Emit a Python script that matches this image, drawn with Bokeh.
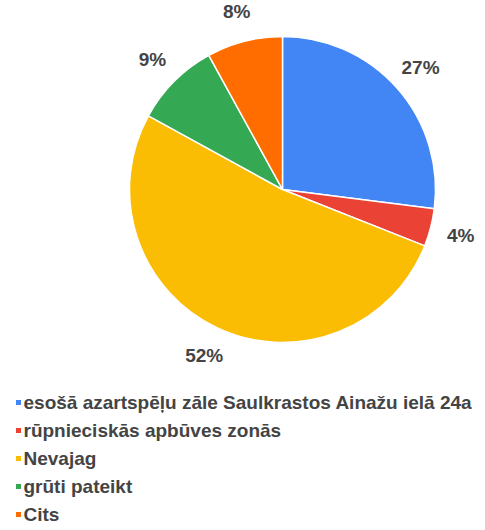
import math
from bokeh.plotting import figure
from bokeh.models import ColumnDataSource, Range1d
from bokeh.core.properties import value
from bokeh.embed import file_html
from bokeh.resources import INLINE

categories = ["esošā azartspēļu zāle Saulkrastos Ainažu ielā 24a",
              "rūpnieciskās apbūves zonās",
              "Nevajag",
              "grūti pateikt",
              "Cits"]
values = [27, 4, 52, 9, 8]
colors = ["#4285F4", "#EA4335", "#FBBC04", "#34A853", "#FF6D01"]

W, H = 477, 526
CX, CY, R = 282, -189, 153
LABEL_R = 184

total = sum(values)
starts, ends, lx, ly, labels = [], [], [], [], []
cum = 0
for v in values:
    a0 = math.pi / 2 - 2 * math.pi * cum / total
    cum += v
    a1 = math.pi / 2 - 2 * math.pi * cum / total
    starts.append(a0)
    ends.append(a1)
    mid = (a0 + a1) / 2
    lx.append(CX + LABEL_R * math.cos(mid))
    ly.append(CY + LABEL_R * math.sin(mid))
    labels.append(f"{round(100 * v / total)}%")

p = figure(width=W, height=H, output_backend="svg", toolbar_location=None,
           x_range=Range1d(0, W), y_range=Range1d(-H, 0), min_border=0)
p.axis.visible = False
p.grid.visible = False
p.outline_line_color = None
p.background_fill_color = "white"
p.border_fill_color = "white"

src = ColumnDataSource(dict(start=starts, end=ends, color=colors))
p.wedge(x=CX, y=CY, radius=R, start_angle="start", end_angle="end",
        direction="clock", fill_color="color", line_color="white", line_width=1.5,
        source=src)

lsrc = ColumnDataSource(dict(x=lx, y=ly, t=labels))
p.text(x="x", y="y", text="t", source=lsrc, text_align="center", text_baseline="middle",
       text_font=value("Liberation Sans"), text_font_style="bold",
       text_font_size="19px", text_color="#444444")

# legend
leg_y = [-402 - 28 * i for i in range(len(categories))]
leg_src = ColumnDataSource(dict(x=[18] * len(categories), tx=[23] * len(categories),
                                y=leg_y, t=categories, color=colors))
p.scatter(x="x", y="y", source=leg_src, marker="square", size=5,
          fill_color="color", line_color=None)
p.text(x="tx", y="y", text="t", source=leg_src, text_align="left", text_baseline="middle",
       text_font=value("Liberation Sans"), text_font_style="bold",
       text_font_size="19px", text_color="#444444")

open("out.html", "w").write(file_html(p, INLINE))
